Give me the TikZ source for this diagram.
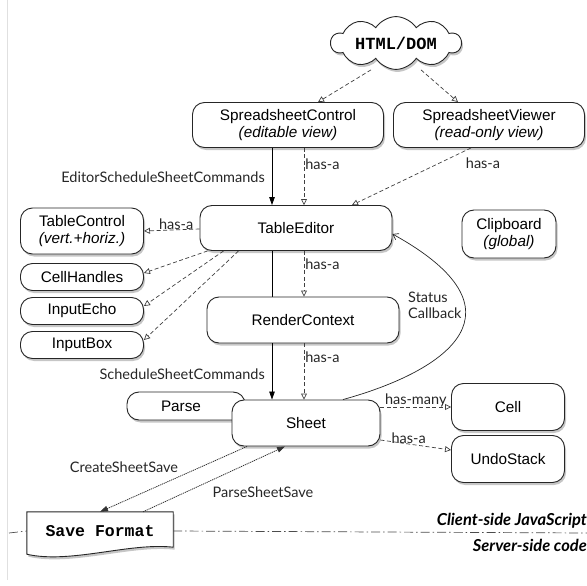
\documentclass[tikz,border=0pt]{standalone}
\usepackage{fontspec}
\setmainfont{Liberation Sans}
\newfontfamily\lblfont{Lato}
\newfontfamily\monob{Liberation Mono}
\usetikzlibrary{shapes.symbols,shadows,arrows.meta,calc}
\begin{document}
\begin{tikzpicture}[x=1pt,y=-1pt,
  box/.style={draw=black!85, line width=0.9pt, rounded corners=12pt, fill=white,
    drop shadow={shadow xshift=1.5pt,shadow yshift=-2.5pt,opacity=0.45},
    align=center, inner sep=0pt, font=\fontsize{15.3}{17.5}\selectfont},
  lbl/.style={font=\lblfont\fontsize{14.5}{16}\selectfont, text=black!85, inner sep=1pt},
  hasa/.style={draw=black!75, line width=0.7pt, dash pattern=on 4pt off 2.5pt,
    -{Triangle[open,length=6pt,width=6pt]}},
  call/.style={draw=black, line width=0.8pt, -{Triangle[length=8pt,width=5.5pt]}},
  save/.style={draw=black!80, line width=0.8pt, dash pattern=on 1.2pt off 0.8pt, -{Triangle[length=8pt,width=5.5pt]}},
  sep/.style={black!70, line width=0.7pt, dash pattern=on 9pt off 3pt on 1.5pt off 3pt},
]
\useasboundingbox (0,0) rectangle (587,586);
\draw[black!12, line width=0.8pt] (7,0) -- (7,580);

% nodes
\node[cloud, cloud puffs=10, cloud puff arc=115, aspect=3.3, draw=black!85, line width=0.9pt, fill=white,
  drop shadow={shadow xshift=1.5pt,shadow yshift=-2.5pt,opacity=0.45},
  minimum width=130pt, minimum height=42pt, inner sep=0pt,
  font=\monob\bfseries\fontsize{17}{19}\selectfont] (dom) at (396,43) {HTML/DOM};

\node[box, minimum width=191pt, minimum height=45pt] (sc) at (288,125) {SpreadsheetControl\\{\itshape (editable view)}};
\node[box, minimum width=191pt, minimum height=45pt] (sv) at (489,125) {SpreadsheetViewer\\{\itshape (read-only view)}};
\node[box, minimum width=192pt, minimum height=45pt] (te) at (296,228) {TableEditor};
\node[box, minimum width=123pt, minimum height=46pt] (tc) at (82,231) {TableControl\\{\itshape (vert.+horiz.)}};
\node[box, minimum width=123pt, minimum height=27pt] (ch) at (82,277) {CellHandles};
\node[box, minimum width=123pt, minimum height=27pt] (ie) at (82,311) {InputEcho};
\node[box, minimum width=123pt, minimum height=27pt] (ib) at (82,345) {InputBox};
\node[box, minimum width=94pt, minimum height=48pt] (cb) at (509,234) {Clipboard\\{\itshape (global)}};
\node[box, minimum width=113pt, minimum height=47pt] (cell) at (508,407) {Cell};
\node[box, minimum width=113pt, minimum height=47pt] (us) at (508,459) {UndoStack};

% solid call line behind RenderContext
\draw[call] ([xshift=-16pt]sc.south) -- ([xshift=-24pt]te.north);
\draw[draw=black, line width=0.8pt] ([xshift=-24pt]te.south) -- (272,297);

\node[box, minimum width=192pt, minimum height=46pt] (rc) at (303,320) {RenderContext};
\node[box, minimum width=118pt, minimum height=28pt] (pa) at (186,406) {\hspace*{-10pt}Parse};
\node[box, minimum width=148pt, minimum height=46pt] (sh) at (306,423) {Sheet};

\draw[call] (272,343) -- ([xshift=-34pt]sh.north);

% Save format
\node[minimum width=146pt, minimum height=38pt, inner sep=0pt] (sf) at (100,531) {};
\draw[draw=black!85, line width=0.9pt, fill=white,
  drop shadow={shadow xshift=1.5pt,shadow yshift=-2.5pt,opacity=0.45}]
  (sf.north west) -- (sf.north east) -- ([yshift=3pt]sf.south east)
  .. controls ([xshift=-43pt,yshift=8pt]sf.south east) and ([xshift=43pt,yshift=-14pt]sf.south west) ..
  ([yshift=-4pt]sf.south west) -- cycle;
\node[font=\monob\bfseries\fontsize{16.5}{19}\selectfont] (sft) at (sf) {Save Format};

% dash-dot separator
\draw[sep] (9,533) -- (sf.west);
\draw[sep] (sf.east) -- (587,533);
\node[anchor=east, font=\lblfont\bfseries\itshape\fontsize{16.5}{18}\selectfont, inner sep=0pt] (cs) at (587,521) {Client-side JavaScript};
\node[anchor=east, font=\lblfont\bfseries\itshape\fontsize{16.5}{18}\selectfont, inner sep=0pt] (ss) at (587,545) {Server-side code};

% edges
\draw[hasa] ([xshift=-25pt]dom.south) -- ([xshift=30pt]sc.north);
\draw[hasa] ([xshift=25pt]dom.south) -- ([xshift=-31pt]sv.north);
\node[lbl, anchor=east] (l1) at (266,177) {EditorScheduleSheetCommands};
\draw[hasa] ([xshift=16pt]sc.south) -- ([xshift=8pt]te.north) node[lbl, pos=0.28, anchor=west] {has-a};
\draw[hasa] ([xshift=-18pt]sv.south) -- ([xshift=56pt]te.north);
\node[lbl] (l2) at (483,163) {has-a};
\draw[hasa] ([yshift=-1pt]te.west) -- (tc.east) node[lbl, pos=0.42, above=-1pt] {has-a};
\draw[hasa] ([xshift=8pt]te.south west) -- ([yshift=4pt]ch.east);
\draw[hasa] ([xshift=24pt]te.south west) -- ([yshift=5pt]ie.east);
\draw[hasa] ([xshift=39pt]te.south west) -- ([yshift=5pt]ib.east);
\draw[hasa] ([xshift=8pt]te.south) -- ([xshift=1pt]rc.north) node[lbl, pos=0.3, anchor=west] {has-a};
\draw[hasa] ([xshift=1pt]rc.south) -- ([xshift=-2pt]sh.north) node[lbl, pos=0.25, anchor=west] {has-a};
\node[lbl, anchor=east] (l3) at (266,374) {ScheduleSheetCommands};
\draw[hasa] ([yshift=16pt]sh.east) -- (cell.west) node[lbl, midway, above=-1pt] {has-many};
\draw[hasa] ([yshift=-17pt]sh.east) -- ([yshift=9pt]us.west) node[lbl, pos=0.4, above=-1pt] {has-a};
\draw[draw=black!85, line width=0.7pt, -{Straight Barb[length=5pt,width=7pt]}]
  ([xshift=37pt]sh.north) .. controls (450,370) and (530,310) .. ([yshift=-6pt]te.east);
\node[lbl, align=left, anchor=west] (stat) at (407,305) {Status\\Callback};
\draw[save] ([xshift=-59pt]sh.south) -- (sf.north);
\node[lbl] (l5) at (124,467) {CreateSheetSave};
\draw[save] ([xshift=43pt]sf.north) -- ([xshift=-21pt]sh.south);
\node[lbl] (l4) at (263,492) {ParseSheetSave};
\end{tikzpicture}
\end{document}
